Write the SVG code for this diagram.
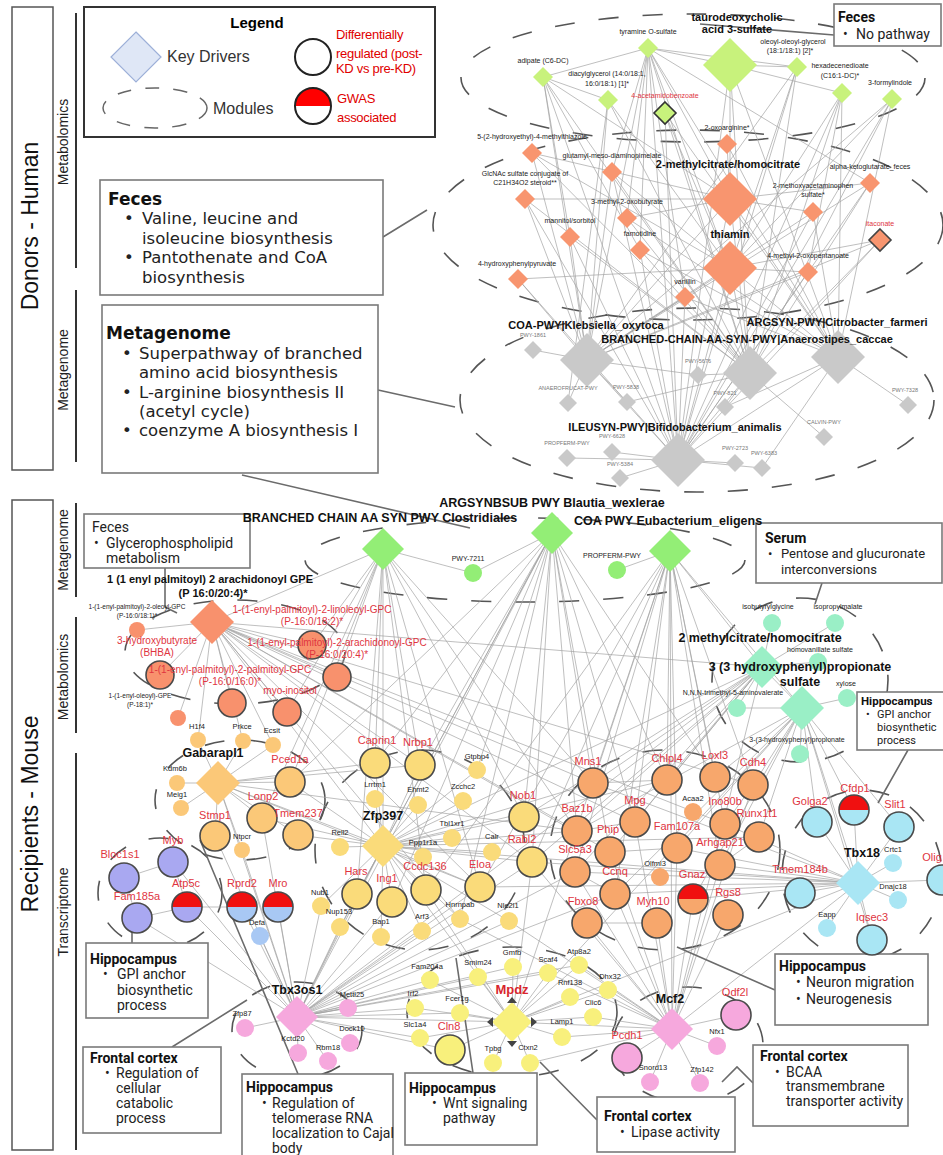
<svg xmlns="http://www.w3.org/2000/svg" width="943" height="1155" viewBox="0 0 943 1155">
<style>
text{font-family:"Liberation Sans",Arial,sans-serif}
.e{stroke:#a3a3a3;stroke-width:.7;fill:none}
.m{fill:none;stroke:#555;stroke-width:1.6;stroke-dasharray:20 24}
.cl{fill:none;stroke:#6b6b6b;stroke-width:1.6}
.bx{fill:#fff;stroke:#7a7a7a;stroke-width:1.6}
.s{font-size:7px;fill:#222;text-anchor:middle}
.s6{font-size:6.5px;fill:#222;text-anchor:middle}
.t{font-size:7.5px;fill:#222;text-anchor:middle}
.g{font-size:5.5px;fill:#777;text-anchor:middle}
.r{font-size:11px;fill:#e0353f;text-anchor:middle}
.rs{font-size:10px;fill:#e0353f;text-anchor:middle}
.k{font-size:11px;font-weight:bold;fill:#111;text-anchor:middle}
.kb{font-size:12.5px;font-weight:bold;fill:#111;text-anchor:middle}
.dr{stroke:#4a4a4a;stroke-width:1.6}
.bt{font-family:Roboto,"Liberation Sans",sans-serif;font-size:14px;fill:#222}
.bh{font-family:Roboto,"Liberation Sans",sans-serif;font-size:14px;font-weight:bold;fill:#111}
.bt13{font-family:Roboto,"Liberation Sans",sans-serif;font-size:13px;fill:#222}
.bh11{font-family:Roboto,"Liberation Sans",sans-serif;font-size:11.5px;font-weight:bold;fill:#111}
.bt10{font-family:Roboto,"Liberation Sans",sans-serif;font-size:11px;fill:#222}
.dj{font-family:"DejaVu Sans",sans-serif;font-size:16.5px;fill:#222}
.djb{font-family:"DejaVu Sans",sans-serif;font-size:17px;font-weight:bold;fill:#111}
.side{font-size:23px;fill:#111;text-anchor:middle}
.sub{font-size:14px;fill:#222;text-anchor:middle}
.dg{fill:#c8f27c}.do{fill:#f8956f}.gy{fill:#c9c9c9}.rg{fill:#93ee76}.ro{fill:#f8916d}
.tl{fill:#9aefc6}.go{fill:#fbc878}.ye{fill:#fadb7a}.or{fill:#f7a76c}.pu{fill:#a9a8f1}
.lb{fill:#a8c8f4}.cy{fill:#a9e6f4}.by{fill:#f8f07c}.pk{fill:#f6a8dd}.rd{fill:#f01010}
.red{fill:#e0353f}
</style>

<g id="side-labels">
<rect x="12" y="7" width="41" height="463" fill="none" stroke="#555" stroke-width="1.5"/>
<text class="side" transform="translate(38,226) rotate(-90)">Donors - Human</text>
<rect x="12" y="500" width="41" height="650" fill="none" stroke="#555" stroke-width="1.5"/>
<text class="side" transform="translate(38,814) rotate(-90)">Recipients - Mouse</text>
<g stroke="#333" stroke-width="2">
<line x1="76" y1="13" x2="76" y2="268"/><line x1="76" y1="290" x2="76" y2="462"/>
<line x1="76" y1="503" x2="76" y2="597"/><line x1="76" y1="617" x2="76" y2="733"/>
<line x1="76" y1="753" x2="76" y2="1150"/></g>
<text class="sub" transform="translate(68,142) rotate(-90)">Metabolomics</text>
<text class="sub" transform="translate(68,370) rotate(-90)">Metagenome</text>
<text class="sub" transform="translate(68,550) rotate(-90)">Metagenome</text>
<text class="sub" transform="translate(68,677) rotate(-90)">Metabolomics</text>
<text class="sub" transform="translate(68,912) rotate(-90)">Transcriptome</text>
</g>

<g id="legend">
<rect x="84" y="7" width="351" height="130" fill="#fff" stroke="#333" stroke-width="2"/>
<text x="257" y="28" font-size="15" font-weight="bold" text-anchor="middle">Legend</text>
<polygon points="136,32 161,57 136,82 111,57" fill="#dfe7f6" stroke="#9db0d8" stroke-width="1.2"/>
<text x="167" y="62" font-family="'Open Sans',sans-serif" font-size="16" fill="#333">Key Drivers</text>
<ellipse cx="155" cy="108" rx="52" ry="20" fill="none" stroke="#666" stroke-width="1.5" stroke-dasharray="14 14"/>
<text x="213" y="114" font-family="'Open Sans',sans-serif" font-size="16" fill="#333">Modules</text>
<circle cx="313" cy="57" r="18" fill="#fff" stroke="#222" stroke-width="2"/>
<g font-family="'Open Sans',sans-serif" font-size="13" fill="#e00000" letter-spacing="-0.3">
<text x="336" y="39">Differentially</text><text x="336" y="58">regulated (post-</text><text x="336" y="73">KD vs pre-KD)</text>
<text x="337" y="103">GWAS</text><text x="337" y="122">associated</text></g>
<circle cx="313" cy="106" r="18" fill="#fff"/>
<path d="M295,106 A18,18 0 0 1 331,106 Z" fill="#f00"/>
<circle cx="313" cy="106" r="18" fill="none" stroke="#222" stroke-width="2"/>
</g>

<g id="modules">
<ellipse class="m" cx="693" cy="78" rx="232" ry="64"/>
<ellipse class="m" cx="688" cy="225" rx="255" ry="95"/>
<ellipse class="m" cx="697" cy="400" rx="237" ry="92"/>
<ellipse class="m" cx="525" cy="560" rx="220" ry="42"/>
<ellipse class="m" cx="235" cy="652" rx="110" ry="52"/>
<ellipse class="m" cx="800" cy="680" rx="88" ry="82"/>
<ellipse class="m" cx="240" cy="800" rx="85" ry="60"/>
<ellipse class="m" cx="160" cy="893" rx="62" ry="55"/>
<ellipse class="m" cx="420" cy="850" rx="105" ry="100"/>
<ellipse class="m" cx="665" cy="850" rx="115" ry="100"/>
<ellipse class="m" cx="862" cy="875" rx="80" ry="85"/>
<ellipse class="m" cx="512" cy="1012" rx="105" ry="65"/>
<ellipse class="m" cx="297" cy="1030" rx="65" ry="48"/>
<ellipse class="m" cx="688" cy="1045" rx="75" ry="58"/>
</g>

<g id="connectors">
<path class="e" d="M648,48L730,65M648,48L797,67M648,48L730,199M648,48L730,268M648,48L750,373M648,48L678,460M648,48L587,360M648,48L612,172M648,48L627,218M648,48L640,250M648,48L838,357M648,48L870,183M648,48L685,297M648,48L543,77
M543,77L730,199M543,77L640,250M543,77L587,360M543,77L678,460M543,77L570,237M543,77L750,373M543,77L608,100
M608,100L587,360M608,100L730,268M608,100L568,403M608,100L750,373
M665,113L730,268M665,113L678,460M665,113L750,373M665,113L838,357
M730,65L730,199M730,65L842,93M730,65L797,67M730,65L750,373M730,65L838,357M730,65L678,460
M797,67L730,268M797,67L750,373M797,67L678,460M797,67L587,360
M842,93L750,373M842,93L678,460M842,93L838,357M842,93L808,272M842,93L730,268
M892,99L838,357M892,99L730,268M892,99L750,373M892,99L678,460M892,99L587,360
M532,153L750,373M532,153L587,360M532,153L730,268M532,153L730,199
M727,144L730,199M727,144L838,357
M612,172L750,373M612,172L678,460M612,172L587,360M612,172L730,268
M730,199L525,199M730,199L838,357M730,199L750,373M730,199L587,360M730,199L678,460M730,199L870,183M730,199L813,212M730,199L627,218
M870,183L678,460M870,183L750,373M870,183L587,360
M525,199L750,373M525,199L587,360M525,199L678,460
M813,212L678,460M813,212L838,357M813,212L587,360
M627,218L750,373M627,218L838,357
M570,237L587,360M570,237L678,460M570,237L750,373
M640,250L750,373M640,250L838,357M640,250L678,460
M730,268L587,360M730,268L678,460M730,268L838,357M730,268L750,373M730,268L880,240M730,268L808,272M730,268L518,279
M880,240L678,460M880,240L750,373M880,240L587,360
M808,272L678,460M808,272L587,360
M518,279L587,360M518,279L678,460
M685,297L678,460M685,297L587,360M685,297L838,357
M587,360L533,350M587,360L568,403M587,360L627,402M587,360L698,375M587,360L678,460
M750,373L698,375M750,373L725,407M750,373L678,460M750,373L824,437M750,373L627,402
M838,357L908,405M838,357L725,407M838,357L678,460M838,357L762,468
M678,460L567,458M678,460L612,452M678,460L620,478M678,460L735,463M678,460L762,468"/>
<path class="e" d="M383,549L212,622M383,549L312,645M383,549L337,677M383,549L287,712M383,549L290,782M383,549L375,763M383,549L420,765M383,549L383,846M383,549L480,887M383,549L426,890M383,549L593,783M383,549L577,831M383,549L524,817M383,549L473,573M383,549L262,818M383,549L357,894
M552,533L473,573M552,533L420,765M552,533L375,763M552,533L477,770M552,533L524,817M552,533L532,862M552,533L593,783M552,533L667,780M552,533L635,822M552,533L577,831M552,533L610,852M552,533L460,919M552,533L357,894M552,533L297,1017M552,533L383,846M552,533L290,782M552,533L715,777M552,533L392,902
M670,551L617,570M670,551L762,667M670,551L593,783M670,551L667,780M670,551L715,777M670,551L753,785M670,551L635,822M670,551L725,824M670,551L677,848M670,551L720,865M670,551L615,894M670,551L532,862M670,551L480,887M670,551L672,1029M670,551L512,1022M670,551L802,708M670,551L426,890M670,551L575,872
M212,622L137,630M212,622L160,675M212,622L232,703M212,622L178,718M212,622L312,645M212,622L337,677M212,622L287,712M212,622L198,740M212,622L243,741M212,622L273,745M212,622L480,887M212,622L532,862M212,622L593,783M212,622L577,831M212,622L635,822M212,622L460,919M212,622L753,785M212,622L725,824M212,622L762,667M212,622L420,765M212,622L383,846M212,622L610,852
M762,667L772,623M762,667L835,623M762,667L818,662M762,667L737,708M762,667L802,708M762,667L593,783M762,667L577,831M762,667L667,780M762,667L635,822M762,667L610,852M762,667L575,872M762,667L532,862M762,667L383,846M762,667L297,1017M762,667L672,1029M762,667L524,817
M802,708L847,698M802,708L800,754M802,708L737,708M802,708L858,883M802,708L817,822M802,708L899,827M802,708L753,785M802,708L759,837M802,708L715,777M802,708L720,865M802,708L677,848M802,708L615,894M802,708L693,899M802,708L512,1022M802,708L872,940M802,708L854,810M802,708L577,831
M218,783L177,783M218,783L181,808M218,783L290,782M218,783L262,818M218,783L215,836M218,783L298,835M218,783L242,850M218,783L198,740M218,783L243,741M218,783L273,745M218,783L383,846M218,783L420,765M218,783L480,887M218,783L577,831M218,783L297,1017M218,783L375,763
M383,846L375,799M383,846L418,805M383,846L463,801M383,846L340,847M383,846L452,838M383,846L423,857M383,846L492,852M383,846L321,906M383,846L340,927M383,846L381,937M383,846L422,931M383,846L460,919M383,846L509,921M383,846L357,894M383,846L392,902M383,846L426,890M383,846L480,887M383,846L375,763M383,846L420,765M383,846L477,770M383,846L524,817M383,846L532,862M383,846L593,783M383,846L667,780M383,846L297,1017M383,846L512,1022M383,846L759,837M383,846L262,818M383,846L298,835M383,846L290,782M383,846L858,883M383,846L577,831
M858,883L817,822M858,883L854,810M858,883L899,827M858,883L893,863M858,883L940,880M858,883L898,900M858,883L800,893M858,883L827,928M858,883L872,940M858,883L720,865M858,883L693,899M858,883L677,848M858,883L615,894M858,883L575,872M858,883L532,862M858,883L480,887M858,883L512,1022M858,883L672,1029M858,883L593,783M858,883L725,824
M124,878L173,862M137,918L187,907M124,878L137,918M173,862L187,907M187,907L242,907
M297,1017L348,1008M297,1017L245,1028M297,1017L350,1043M297,1017L298,1053M297,1017L328,1061M297,1017L430,980M297,1017L415,1008M297,1017L420,1038M297,1017L460,1013M297,1017L478,977M297,1017L513,967M297,1017L548,973M297,1017L579,965M297,1017L512,1022M297,1017L450,1050M297,1017L392,902M297,1017L357,894M297,1017L321,906M297,1017L340,927M297,1017L381,937M297,1017L460,919M297,1017L422,931M297,1017L509,921M297,1017L242,850M297,1017L262,818M297,1017L215,836M297,1017L187,907M297,1017L278,907M297,1017L173,862M297,1017L480,887M297,1017L532,862M297,1017L575,872M297,1017L615,894M297,1017L260,936M297,1017L137,918M297,1017L242,907
M512,1022L478,977M512,1022L513,967M512,1022L548,973M512,1022L579,965M512,1022L570,997M512,1022L608,990M512,1022L593,1017M512,1022L562,1037M512,1022L493,1063M512,1022L530,1063M512,1022L450,1050M512,1022L420,1038M512,1022L460,1013M512,1022L430,980M512,1022L415,1008M512,1022L672,1029M512,1022L426,890M512,1022L532,862
M672,1029L627,1058M672,1029L717,1046M672,1029L650,1082M672,1029L700,1083M672,1029L736,1015M672,1029L608,990M672,1029L593,1017M672,1029L562,1037M672,1029L579,965M672,1029L548,973M672,1029L530,1063M672,1029L657,923M672,1029L693,899M672,1029L728,915M672,1029L587,923M672,1029L615,894M672,1029L720,865M672,1029L677,848M672,1029L635,822M672,1029L610,852M672,1029L575,872M672,1029L532,862M672,1029L460,919M672,1029L509,921M672,1029L753,785
M593,783L667,780M577,831L635,822M610,852L677,848M575,872L615,894M720,865L759,837M725,824L753,785M587,923L657,923"/>
<g id="callouts">
<path class="cl" d="M383,237L427,210M378,390L455,407M242,475L470,528M834,35L700,24M165,568L165,607L177,613M822,583L815,604M908,750L878,803M132,943L132,930M172,1047L247,1000M298,1074L200,840M473,1073L456,958M597,1120L540,1062M775,990L677,947M722,1082L737,1067L753,1083"/>
</g>
</g>

<g id="boxes">
<g id="box-donor-feces"><rect class="bx" x="100" y="180" width="283" height="115"/>
<text class="djb" x="108" y="205">Feces</text>
<text class="dj" x="124" y="224">•</text><text class="dj" x="142" y="224">Valine, leucine and</text>
<text class="dj" x="142" y="244">isoleucine biosynthesis</text>
<text class="dj" x="124" y="263">•</text><text class="dj" x="142" y="263">Pantothenate and CoA</text>
<text class="dj" x="142" y="283">biosynthesis</text></g>
<g id="box-donor-metagenome"><rect class="bx" x="102" y="305" width="276" height="168"/>
<text class="djb" x="106" y="339">Metagenome</text>
<text class="dj" x="122" y="359">•</text><text class="dj" x="139" y="359">Superpathway of branched</text>
<text class="dj" x="139" y="378">amino acid biosynthesis</text>
<text class="dj" x="122" y="398">•</text><text class="dj" x="139" y="398">L-arginine biosynthesis II</text>
<text class="dj" x="139" y="417">(acetyl cycle)</text>
<text class="dj" x="122" y="436">•</text><text class="dj" x="139" y="436">coenzyme A biosynthesis I</text></g>
<g id="box-donor-feces-np"><rect class="bx" x="834" y="4" width="107" height="42"/>
<text class="bh" x="838" y="22">Feces</text><text class="bt" x="843" y="39">•</text><text class="bt" x="856" y="39">No pathway</text></g>
<g id="box-rec-feces"><rect class="bx" x="84" y="514" width="166" height="54"/>
<text class="bt" x="92" y="532">Feces</text>
<text class="bt" x="94" y="548">•</text><text class="bt" x="106" y="548">Glycerophospholipid</text>
<text class="bt" x="106" y="563">metabolism</text></g>
<g id="box-serum"><rect class="bx" x="756" y="523" width="186" height="60"/>
<text class="bh" x="765" y="543">Serum</text>
<text class="bt13" x="768" y="558">•</text><text class="bt13" x="781" y="558">Pentose and glucuronate</text>
<text class="bt13" x="781" y="574">interconversions</text></g>
<g id="box-hip-gpi-r"><rect class="bx" x="857" y="692" width="91" height="58"/>
<text class="bh11" x="861" y="705">Hippocampus</text>
<text class="bt10" x="866" y="718">•</text><text class="bt10" x="877" y="718">GPI anchor</text>
<text class="bt10" x="877" y="731">biosynthetic</text><text class="bt10" x="877" y="744">process</text></g>
<g id="box-hip-gpi-l"><rect class="bx" x="86" y="943" width="122" height="75"/>
<text class="bh" x="90" y="964">Hippocampus</text>
<text class="bt" x="103" y="979">•</text><text class="bt" x="117" y="979">GPI anchor</text>
<text class="bt" x="117" y="995">biosynthetic</text><text class="bt" x="117" y="1010">process</text></g>
<g id="box-fc-cellular"><rect class="bx" x="83" y="1047" width="138" height="86"/>
<text class="bh" x="90" y="1063">Frontal cortex</text>
<text class="bt" x="105" y="1078">•</text><text class="bt" x="116" y="1078">Regulation of</text>
<text class="bt" x="116" y="1093">cellular</text><text class="bt" x="116" y="1108">catabolic</text><text class="bt" x="116" y="1123">process</text></g>
<g id="box-hip-telomerase"><rect class="bx" x="242" y="1074" width="151" height="90"/>
<text class="bh" x="246" y="1092">Hippocampus</text>
<text class="bt" x="262" y="1108">•</text><text class="bt" x="272" y="1108">Regulation of</text>
<text class="bt" x="272" y="1123">telomerase RNA</text><text class="bt" x="272" y="1138">localization to Cajal</text><text class="bt" x="272" y="1153">body</text></g>
<g id="box-hip-wnt"><rect class="bx" x="405" y="1073" width="132" height="72"/>
<text class="bh" x="409" y="1093">Hippocampus</text>
<text class="bt" x="432" y="1108">•</text><text class="bt" x="443" y="1108">Wnt signaling</text><text class="bt" x="443" y="1123">pathway</text></g>
<g id="box-fc-lipase"><rect class="bx" x="597" y="1097" width="138" height="55"/>
<text class="bh" x="604" y="1121">Frontal cortex</text>
<text class="bt" x="620" y="1137">•</text><text class="bt" x="631" y="1137">Lipase activity</text></g>
<g id="box-fc-bcaa"><rect class="bx" x="753" y="1045" width="155" height="81"/>
<text class="bh" x="760" y="1061">Frontal cortex</text>
<text class="bt" x="775" y="1077">•</text><text class="bt" x="786" y="1077">BCAA</text>
<text class="bt" x="786" y="1091">transmembrane</text><text class="bt" x="786" y="1106">transporter activity</text></g>
<g id="box-hip-neuron"><rect class="bx" x="775" y="954" width="153" height="71"/>
<text class="bh" x="779" y="971">Hippocampus</text>
<text class="bt" x="796" y="987">•</text><text class="bt" x="806" y="987">Neuron migration</text>
<text class="bt" x="796" y="1004">•</text><text class="bt" x="806" y="1004">Neurogenesis</text></g>
</g>

<!-- donor metabolomics green -->
<g id="n-taurodeoxycholic"><polygon class="dg" points="730,38 757,65 730,92 703,65"/><text class="k" x="737" y="21">taurodeoxycholic</text><text class="k" x="737" y="33">acid 3-sulfate</text></g>
<g id="n-tyramine"><polygon class="dg" points="648,38 658,48 648,58 638,48"/><text class="s" x="648" y="34">tyramine O-sulfate</text></g>
<g id="n-adipate"><polygon class="dg" points="543,67 553,77 543,87 533,77"/><text class="s" x="543" y="63">adipate (C6-DC)</text></g>
<g id="n-diacylglycerol"><polygon class="dg" points="608,90 618,100 608,110 598,100"/><text class="s" x="607" y="76">diacylglycerol (14:0/18:1,</text><text class="s" x="607" y="86">16:0/18:1) [1]*</text></g>
<g id="n-acetamidobenzoate"><polygon class="dg" points="665,102 676,113 665,124 654,113" stroke="#333" stroke-width="1.6"/><text class="s red" x="665" y="98">4-acetamidobenzoate</text></g>
<g id="n-oleoyl"><polygon class="dg" points="797,57 807,67 797,77 787,67"/><text class="s" x="793" y="44">oleoyl-oleoyl-glycerol</text><text class="s" x="790" y="53">(18:1/18:1) [2]*</text></g>
<g id="n-hexadecenedioate"><polygon class="dg" points="842,83 852,93 842,103 832,93"/><text class="s" x="840" y="68">hexadecenedioate</text><text class="s" x="840" y="78">(C16:1-DC)*</text></g>
<g id="n-formylindole"><polygon class="dg" points="892,89 902,99 892,109 882,99"/><text class="s" x="890" y="85">3-formylindole</text></g>

<!-- donor feces orange -->
<g id="n-thiazole"><polygon class="do" points="532,143 542,153 532,163 522,153"/><text class="s" x="532" y="139">5-(2-hydroxyethyl)-4-methylthiazole</text></g>
<g id="n-oxoarginine"><polygon class="do" points="727,134 737,144 727,154 717,144"/><text class="s" x="727" y="130">2-oxoarginine*</text></g>
<g id="n-glutamyl"><polygon class="do" points="612,162 622,172 612,182 602,172"/><text class="s" x="612" y="158">glutamyl-meso-diaminopimelate</text></g>
<g id="n-methylcitrate-d"><polygon class="do" points="730,172 757,199 730,226 703,199"/><text class="k" x="728" y="168">2-methylcitrate/homocitrate</text></g>
<g id="n-alphaketo"><polygon class="do" points="870,173 880,183 870,193 860,183"/><text class="s" x="870" y="169">alpha-ketoglutarate_feces</text></g>
<g id="n-glcnac"><polygon class="do" points="525,189 535,199 525,209 515,199"/><text class="s" x="525" y="176">GlcNAc sulfate conjugate of</text><text class="s" x="525" y="185">C21H34O2 steroid**</text></g>
<g id="n-methoxy"><polygon class="do" points="813,202 823,212 813,222 803,212"/><text class="s" x="813" y="188">2-methoxyacetaminophen</text><text class="s" x="813" y="197">sulfate*</text></g>
<g id="n-oxobutyrate"><polygon class="do" points="627,208 637,218 627,228 617,218"/><text class="s" x="627" y="204">3-methyl-2-oxobutyrate</text></g>
<g id="n-mannitol"><polygon class="do" points="570,227 580,237 570,247 560,237"/><text class="s" x="570" y="223">mannitol/sorbitol</text></g>
<g id="n-famotidine"><polygon class="do" points="640,240 650,250 640,260 630,250"/><text class="s" x="640" y="236">famotidine</text></g>
<g id="n-thiamin"><polygon class="do" points="730,241 757,268 730,295 703,268"/><text class="k" x="730" y="238">thiamin</text></g>
<g id="n-itaconate"><polygon class="do" points="880,229 891,240 880,251 869,240" stroke="#444" stroke-width="1.6"/><text class="s red" x="880" y="226">itaconate</text></g>
<g id="n-oxopentanoate"><polygon class="do" points="808,262 818,272 808,282 798,272"/><text class="s" x="808" y="258">4-methyl-2-oxopentanoate</text></g>
<g id="n-hydroxyphenylpyruvate"><polygon class="do" points="518,269 528,279 518,289 508,279"/><text class="s" x="517" y="266">4-hydroxyphenylpyruvate</text></g>
<g id="n-vanillin"><polygon class="do" points="685,287 695,297 685,307 675,297"/><text class="s" x="685" y="284">vanillin</text></g>

<!-- donor metagenome gray -->
<g id="n-coa-kleb"><polygon class="gy" points="587,333 614,360 587,387 560,360"/><text class="k" x="586" y="329">COA-PWY|Klebsiella_oxytoca</text></g>
<g id="n-pwy1861"><polygon class="gy" points="533,341 542,350 533,359 524,350"/><text class="g" x="533" y="337">PWY-1861</text></g>
<g id="n-argsyn-citro"><polygon class="gy" points="838,330 865,357 838,384 811,357"/><text class="k" x="837" y="326">ARGSYN-PWY|Citrobacter_farmeri</text></g>
<g id="n-branched-anaero"><polygon class="gy" points="750,346 777,373 750,400 723,373"/><text class="k" x="747" y="343">BRANCHED-CHAIN-AA-SYN-PWY|Anaerostipes_caccae</text></g>
<g id="n-pwy5676"><polygon class="gy" points="698,366 707,375 698,384 689,375"/><text class="g" x="698" y="363">PWY-5676</text></g>
<g id="n-anaerofrucat"><polygon class="gy" points="568,394 577,403 568,412 559,403"/><text class="g" x="568" y="390">ANAEROFRUCAT-PWY</text></g>
<g id="n-pwy5838"><polygon class="gy" points="627,393 636,402 627,411 618,402"/><text class="g" x="626" y="389">PWY-5838</text></g>
<g id="n-pwy821"><polygon class="gy" points="725,398 734,407 725,416 716,407"/><text class="g" x="725" y="395">PWY-821</text></g>
<g id="n-pwy7328"><polygon class="gy" points="908,396 917,405 908,414 899,405"/><text class="g" x="905" y="392">PWY-7328</text></g>
<g id="n-ileusyn"><polygon class="gy" points="678,433 705,460 678,487 651,460"/><text class="k" x="675" y="431">ILEUSYN-PWY|Bifidobacterium_animalis</text></g>
<g id="n-calvin"><polygon class="gy" points="824,428 833,437 824,446 815,437"/><text class="g" x="824" y="424">CALVIN-PWY</text></g>
<g id="n-propferm-d"><polygon class="gy" points="567,449 576,458 567,467 558,458"/><text class="g" x="567" y="445">PROPFERM-PWY</text></g>
<g id="n-pwy6628"><polygon class="gy" points="612,443 621,452 612,461 603,452"/><text class="g" x="612" y="438">PWY-6628</text></g>
<g id="n-pwy5384"><polygon class="gy" points="620,469 629,478 620,487 611,478"/><text class="g" x="620" y="466">PWY-5384</text></g>
<g id="n-pwy2723"><polygon class="gy" points="735,454 744,463 735,472 726,463"/><text class="g" x="735" y="450">PWY-2723</text></g>
<g id="n-pwy6383"><polygon class="gy" points="762,459 771,468 762,477 753,468"/><text class="g" x="764" y="455">PWY-6383</text></g>

<!-- recipient metagenome -->
<g id="n-argsynbsub"><polygon class="rg" points="552,512 573,533 552,554 531,533"/><text class="kb" x="552" y="507">ARGSYNBSUB PWY Blautia_wexlerae</text></g>
<g id="n-branched-clos"><polygon class="rg" points="383,528 404,549 383,570 362,549"/><text class="kb" x="380" y="522">BRANCHED CHAIN AA SYN PWY Clostridiales</text></g>
<g id="n-coa-eub"><polygon class="rg" points="670,530 691,551 670,572 649,551"/><text class="kb" x="668" y="525">COA PWY Eubacterium_eligens</text></g>
<g id="n-pwy7211"><circle class="rg" cx="473" cy="573" r="9"/><text class="s" x="468" y="561">PWY-7211</text></g>
<g id="n-propferm-r"><circle class="rg" cx="617" cy="570" r="9"/><text class="s" x="612" y="558">PROPFERM-PWY</text></g>

<!-- recipient metabolomics feces -->
<g id="n-gpe"><polygon class="ro" points="212,600 234,622 212,644 190,622"/><text class="k" x="210" y="583">1 (1 enyl palmitoyl) 2 arachidonoyl GPE</text><text class="k" x="213" y="597">(P 16:0/20:4)*</text></g>
<g id="n-oleoyl-gpc"><circle class="ro" cx="137" cy="630" r="8"/><text class="s6" x="137" y="609">1-(1-enyl-palmitoyl)-2-oleoyl-GPC</text><text class="s6" x="137" y="618">(P-16:0/18:1)*</text></g>
<g id="n-bhba"><circle class="ro dr" cx="160" cy="675" r="14"/><text class="rs" x="157" y="644">3-hydroxybutyrate</text><text class="rs" x="157" y="656">(BHBA)</text></g>
<g id="n-palmitoyl-gpc"><circle class="ro dr" cx="232" cy="703" r="14"/><text class="rs" x="230" y="673">1-(1-enyl-palmitoyl)-2-palmitoyl-GPC</text><text class="rs" x="230" y="685">(P-16:0/16:0)*</text></g>
<g id="n-oleoyl-gpe"><circle class="ro" cx="178" cy="718" r="8"/><text class="s6" x="140" y="698">1-(1-enyl-oleoyl)-GPE</text><text class="s6" x="140" y="707">(P-18:1)*</text></g>
<g id="n-myoinositol"><circle class="ro dr" cx="287" cy="712" r="14"/><text class="rs" x="290" y="694">myo-inositol</text></g>
<g id="n-linoleoyl-gpc"><circle class="ro dr" cx="312" cy="645" r="14"/><text class="rs" x="312" y="613">1-(1-enyl-palmitoyl)-2-linoleoyl-GPC</text><text class="rs" x="312" y="625">(P-16:0/18:2)*</text></g>
<g id="n-arachidonoyl-gpc"><circle class="ro dr" cx="337" cy="677" r="14"/><text class="rs" x="337" y="646">1-(1-enyl-palmitoyl)-2-arachidonoyl-GPC</text><text class="rs" x="337" y="658">(P-16:0/20:4)*</text></g>

<!-- recipient serum -->
<g id="n-isobutyrylglycine"><circle class="tl" cx="772" cy="623" r="9"/><text class="s" x="768" y="609">isobutyrylglycine</text></g>
<g id="n-isopropylmalate"><circle class="tl" cx="835" cy="623" r="9"/><text class="s" x="838" y="609">isopropylmalate</text></g>
<g id="n-methylcitrate-s"><polygon class="tl" points="762,646 783,667 762,688 741,667"/><text class="kb" x="760" y="642">2 methylcitrate/homocitrate</text></g>
<g id="n-homovanillate"><circle class="tl" cx="818" cy="662" r="9"/><text class="s" x="820" y="652">homovanillate sulfate</text></g>
<g id="n-hpps"><polygon class="tl" points="802,686 824,708 802,730 780,708"/><text class="kb" x="800" y="671">3 (3 hydroxyphenyl)propionate</text><text class="kb" x="800" y="686">sulfate</text></g>
<g id="n-xylose"><circle class="tl" cx="847" cy="698" r="9"/><text class="s" x="846" y="686">xylose</text></g>
<g id="n-aminovalerate"><circle class="tl" cx="737" cy="708" r="9"/><text class="s" x="733" y="695">N,N,N-trimethyl-5-aminovalerate</text></g>
<g id="n-hpp"><circle class="tl" cx="800" cy="754" r="9"/><text class="s" x="797" y="742">3-(3-hydroxyphenyl)propionate</text></g>

<!-- transcriptome: Gabarapl1 module -->
<g id="n-h1f4"><circle class="go" cx="198" cy="740" r="8"/><text class="t" x="197" y="729">H1f4</text></g>
<g id="n-prkce"><circle class="go" cx="243" cy="741" r="8"/><text class="t" x="242" y="729">Prkce</text></g>
<g id="n-ecsit"><circle class="go" cx="273" cy="745" r="8"/><text class="t" x="272" y="733">Ecsit</text></g>
<g id="n-gabarapl1"><polygon class="go" points="218,761 240,783 218,805 196,783"/><text class="kb" x="213" y="757">Gabarapl1</text></g>
<g id="n-kdm6b"><circle class="go" cx="177" cy="783" r="8"/><text class="t" x="175" y="771">Kdm6b</text></g>
<g id="n-meig1"><circle class="go" cx="181" cy="808" r="8"/><text class="t" x="177" y="797">Meig1</text></g>
<g id="n-pced1a"><circle class="go dr" cx="290" cy="782" r="15"/><text class="r" x="290" y="763">Pced1a</text></g>
<g id="n-lonp2"><circle class="go dr" cx="262" cy="818" r="15"/><text class="r" x="263" y="800">Lonp2</text></g>
<g id="n-stmp1"><circle class="go dr" cx="215" cy="836" r="15"/><text class="r" x="215" y="819">Stmp1</text></g>
<g id="n-tmem237"><circle class="go dr" cx="298" cy="835" r="15"/><text class="r" x="298" y="817">Tmem237</text></g>
<g id="n-ntpcr"><circle class="go" cx="242" cy="850" r="8"/><text class="t" x="242" y="839">Ntpcr</text></g>

<!-- purple module -->
<g id="n-bloc1s1"><circle class="pu dr" cx="124" cy="878" r="15"/><text class="r" x="120" y="858">Bloc1s1</text></g>
<g id="n-myb"><circle class="pu dr" cx="173" cy="862" r="15"/><text class="r" x="173" y="844">Myb</text></g>
<g id="n-fam185a"><circle class="pu dr" cx="137" cy="918" r="15"/><text class="r" x="137" y="900">Fam185a</text></g>
<g id="n-atp5c"><circle class="pu" cx="187" cy="907" r="15"/><path class="rd" d="M172,907A15,15 0 0 1 202,907Z"/><circle cx="187" cy="907" r="15" fill="none" class="dr"/><text class="r" x="186" y="887">Atp5c</text></g>
<g id="n-rprd2"><circle class="lb" cx="242" cy="907" r="15"/><path class="rd" d="M227,907A15,15 0 0 1 257,907Z"/><circle cx="242" cy="907" r="15" fill="none" class="dr"/><text class="r" x="242" y="887">Rprd2</text></g>
<g id="n-mro"><circle class="lb" cx="278" cy="907" r="15"/><path class="rd" d="M263,907A15,15 0 0 1 293,907Z"/><circle cx="278" cy="907" r="15" fill="none" class="dr"/><text class="r" x="278" y="887">Mro</text></g>
<g id="n-defa"><circle class="lb" cx="260" cy="936" r="9"/><text class="t" x="257" y="925">Defa</text></g>

<!-- Zfp397 module -->
<g id="n-caprin1"><circle class="ye dr" cx="375" cy="763" r="15"/><text class="r" x="377" y="744">Caprin1</text></g>
<g id="n-nrbp1"><circle class="ye dr" cx="420" cy="765" r="15"/><text class="r" x="418" y="746">Nrbp1</text></g>
<g id="n-gtpbp4"><circle class="ye" cx="477" cy="770" r="9"/><text class="t" x="477" y="759">Gtpbp4</text></g>
<g id="n-lrrtm1"><circle class="ye" cx="375" cy="799" r="9"/><text class="t" x="375" y="787">Lrrtm1</text></g>
<g id="n-ehmt2"><circle class="ye" cx="418" cy="805" r="9"/><text class="t" x="418" y="792">Ehmt2</text></g>
<g id="n-zcchc2"><circle class="ye" cx="463" cy="801" r="9"/><text class="t" x="463" y="789">Zcchc2</text></g>
<g id="n-zfp397"><polygon class="ye" points="383,825 404,846 383,867 362,846"/><text class="kb" x="383" y="820">Zfp397</text></g>
<g id="n-rell2"><circle class="ye" cx="340" cy="847" r="9"/><text class="t" x="340" y="835">Rell2</text></g>
<g id="n-tbl1xr1"><circle class="ye" cx="452" cy="838" r="9"/><text class="t" x="452" y="826">Tbl1xr1</text></g>
<g id="n-ppp1r1a"><circle class="ye" cx="423" cy="857" r="9"/><text class="t" x="423" y="845">Ppp1r1a</text></g>
<g id="n-calr"><circle class="ye" cx="492" cy="852" r="9"/><text class="t" x="492" y="839">Calr</text></g>
<g id="n-nob1"><circle class="ye dr" cx="524" cy="817" r="15"/><text class="r" x="523" y="799">Nob1</text></g>
<g id="n-rabl2"><circle class="ye dr" cx="532" cy="862" r="15"/><text class="r" x="522" y="843">Rabl2</text></g>
<g id="n-eloa"><circle class="ye dr" cx="480" cy="887" r="15"/><text class="r" x="480" y="868">Eloa</text></g>
<g id="n-hars"><circle class="ye dr" cx="357" cy="894" r="15"/><text class="r" x="356" y="875">Hars</text></g>
<g id="n-ing1"><circle class="ye dr" cx="392" cy="902" r="15"/><text class="r" x="387" y="882">Ing1</text></g>
<g id="n-ccdc136"><circle class="ye dr" cx="426" cy="890" r="15"/><text class="r" x="425" y="870">Ccdc136</text></g>
<g id="n-nub1"><circle class="ye" cx="321" cy="906" r="9"/><text class="t" x="320" y="895">Nub1</text></g>
<g id="n-nup153"><circle class="ye" cx="340" cy="927" r="9"/><text class="t" x="339" y="914">Nup153</text></g>
<g id="n-bap1"><circle class="ye" cx="381" cy="937" r="9"/><text class="t" x="381" y="924">Bap1</text></g>
<g id="n-arf3"><circle class="ye" cx="422" cy="931" r="9"/><text class="t" x="422" y="919">Arf3</text></g>
<g id="n-hnrnpab"><circle class="ye" cx="460" cy="919" r="9"/><text class="t" x="460" y="907">Hnrnpab</text></g>
<g id="n-nle1"><circle class="ye" cx="509" cy="921" r="9"/><text class="t" x="508" y="908">Nle2l1</text></g>

<!-- orange transcriptome module -->
<g id="n-mns1"><circle class="or dr" cx="593" cy="783" r="15"/><text class="r" x="588" y="765">Mns1</text></g>
<g id="n-chlpl4"><circle class="or dr" cx="667" cy="780" r="15"/><text class="r" x="667" y="762">Chlpl4</text></g>
<g id="n-loxl3"><circle class="or dr" cx="715" cy="777" r="15"/><text class="r" x="715" y="759">Loxl3</text></g>
<g id="n-cdh4"><circle class="or dr" cx="753" cy="785" r="15"/><text class="r" x="753" y="766">Cdh4</text></g>
<g id="n-baz1b"><circle class="or dr" cx="577" cy="831" r="15"/><text class="r" x="577" y="812">Baz1b</text></g>
<g id="n-mpg"><circle class="or dr" cx="635" cy="822" r="15"/><text class="r" x="635" y="804">Mpg</text></g>
<g id="n-acaa2"><circle class="or" cx="693" cy="812" r="9"/><text class="t" x="693" y="801">Acaa2</text></g>
<g id="n-ino80b"><circle class="or dr" cx="725" cy="824" r="15"/><text class="r" x="725" y="805">Ino80b</text></g>
<g id="n-runx1t1"><circle class="or dr" cx="759" cy="837" r="15"/><text class="r" x="757" y="817">Runx1t1</text></g>
<g id="n-phip"><circle class="or dr" cx="610" cy="852" r="15"/><text class="r" x="608" y="833">Phip</text></g>
<g id="n-fam107a"><circle class="or dr" cx="677" cy="848" r="15"/><text class="r" x="677" y="830">Fam107a</text></g>
<g id="n-slc5a3"><circle class="or dr" cx="575" cy="872" r="15"/><text class="r" x="575" y="853">Slc5a3</text></g>
<g id="n-arhgap21"><circle class="or dr" cx="720" cy="865" r="15"/><text class="r" x="720" y="846">Arhgap21</text></g>
<g id="n-ccnq"><circle class="or dr" cx="615" cy="894" r="15"/><text class="r" x="615" y="875">Ccnq</text></g>
<g id="n-olfml3"><circle class="or" cx="660" cy="877" r="9"/><text class="t" x="655" y="866">Olfml3</text></g>
<g id="n-gnaz"><circle class="or" cx="693" cy="899" r="15"/><path class="rd" d="M678,899A15,15 0 0 1 708,899Z"/><circle cx="693" cy="899" r="15" fill="none" class="dr"/><text class="r" x="692" y="878">Gnaz</text></g>
<g id="n-fbxo8"><circle class="or dr" cx="587" cy="923" r="15"/><text class="r" x="583" y="905">Fbxo8</text></g>
<g id="n-myh10"><circle class="or dr" cx="657" cy="923" r="15"/><text class="r" x="653" y="905">Myh10</text></g>
<g id="n-rgs8"><circle class="or dr" cx="728" cy="915" r="15"/><text class="r" x="728" y="896">Rgs8</text></g>

<!-- Tbx18 module -->
<g id="n-golga2"><circle class="cy dr" cx="817" cy="822" r="15"/><text class="r" x="810" y="805">Golga2</text></g>
<g id="n-cfdp1"><circle class="cy" cx="854" cy="810" r="15"/><path class="rd" d="M839,810A15,15 0 0 1 869,810Z"/><circle cx="854" cy="810" r="15" fill="none" class="dr"/><text class="r" x="855" y="792">Cfdp1</text></g>
<g id="n-slit1"><circle class="cy dr" cx="899" cy="827" r="15"/><text class="r" x="895" y="808">Slit1</text></g>
<g id="n-tbx18"><polygon class="cy" points="858,861 880,883 858,905 836,883"/><text class="kb" x="862" y="857">Tbx18</text></g>
<g id="n-crtc1"><circle class="cy" cx="893" cy="863" r="9"/><text class="t" x="893" y="852">Crtc1</text></g>
<g id="n-olig"><circle class="cy dr" cx="942" cy="880" r="15"/><text class="r" x="932" y="861">Olig</text></g>
<g id="n-dnajc18"><circle class="cy" cx="898" cy="900" r="9"/><text class="t" x="893" y="889">Dnajc18</text></g>
<g id="n-tmem184b"><circle class="cy dr" cx="800" cy="893" r="15"/><text class="r" x="800" y="873">Tmem184b</text></g>
<g id="n-eapp"><circle class="cy" cx="827" cy="928" r="9"/><text class="t" x="827" y="917">Eapp</text></g>
<g id="n-iqsec3"><circle class="cy dr" cx="872" cy="940" r="15"/><text class="r" x="872" y="921">Iqsec3</text></g>

<!-- Mpdz module -->
<g id="n-fam204a"><circle class="by" cx="430" cy="980" r="9"/><text class="t" x="427" y="969">Fam204a</text></g>
<g id="n-smim24"><circle class="by" cx="478" cy="977" r="9"/><text class="t" x="478" y="965">Smim24</text></g>
<g id="n-gmfb"><circle class="by" cx="513" cy="967" r="9"/><text class="t" x="512" y="955">Gmfb</text></g>
<g id="n-scaf4"><circle class="by" cx="548" cy="973" r="9"/><text class="t" x="548" y="962">Scaf4</text></g>
<g id="n-atp8a2"><circle class="by" cx="579" cy="965" r="9"/><text class="t" x="579" y="954">Atp8a2</text></g>
<g id="n-irf2"><circle class="by" cx="415" cy="1008" r="9"/><text class="t" x="413" y="996">Irf2</text></g>
<g id="n-fcer1g"><circle class="by" cx="460" cy="1013" r="9"/><text class="t" x="457" y="1001">Fcer1g</text></g>
<g id="n-rnf138"><circle class="by" cx="570" cy="997" r="9"/><text class="t" x="570" y="985">Rnf138</text></g>
<g id="n-dhx32"><circle class="by" cx="608" cy="990" r="9"/><text class="t" x="610" y="979">Dhx32</text></g>
<g id="n-clic6"><circle class="by" cx="593" cy="1017" r="9"/><text class="t" x="593" y="1005">Clic6</text></g>
<g id="n-mpdz"><polygon class="by" points="512,1002 532,1022 512,1042 492,1022"/>
<path fill="#444" d="M507,1003L517,1003L512,997ZM507,1041L517,1041L512,1047ZM493,1017L493,1027L487,1022ZM531,1017L531,1027L537,1022Z"/>
<text x="512" y="994" font-size="13" font-weight="bold" fill="#d8262e" text-anchor="middle">Mpdz</text></g>
<g id="n-lamp1"><circle class="by" cx="562" cy="1037" r="9"/><text class="t" x="562" y="1024">Lamp1</text></g>
<g id="n-slc1a4"><circle class="by" cx="420" cy="1038" r="9"/><text class="t" x="415" y="1027">Slc1a4</text></g>
<g id="n-cln8"><circle class="by dr" cx="450" cy="1050" r="15"/><text class="r" x="449" y="1030">Cln8</text></g>
<g id="n-tpbg"><circle class="by" cx="493" cy="1063" r="9"/><text class="t" x="493" y="1051">Tpbg</text></g>
<g id="n-ctxn2"><circle class="by" cx="530" cy="1063" r="9"/><text class="t" x="528" y="1050">Ctxn2</text></g>

<!-- Tbx3os1 module -->
<g id="n-tbx3os1"><polygon class="pk" points="297,996 318,1017 297,1038 276,1017"/><text class="kb" x="297" y="994">Tbx3os1</text></g>
<g id="n-mettl25"><circle class="pk" cx="348" cy="1008" r="9"/><text class="t" x="352" y="997">Mettl25</text></g>
<g id="n-zfp87"><circle class="pk" cx="245" cy="1028" r="9"/><text class="t" x="242" y="1016">Zfp87</text></g>
<g id="n-dock10"><circle class="pk" cx="350" cy="1043" r="9"/><text class="t" x="352" y="1031">Dock10</text></g>
<g id="n-kctd20"><circle class="pk" cx="298" cy="1053" r="9"/><text class="t" x="293" y="1041">Kctd20</text></g>
<g id="n-rbm18"><circle class="pk" cx="328" cy="1061" r="9"/><text class="t" x="328" y="1050">Rbm18</text></g>

<!-- Mcf2 module -->
<g id="n-mcf2"><polygon class="pk" points="672,1008 693,1029 672,1050 651,1029"/><text class="kb" x="670" y="1003">Mcf2</text></g>
<g id="n-odf2l"><circle class="pk dr" cx="736" cy="1015" r="15"/><text class="r" x="735" y="996">Odf2l</text></g>
<g id="n-pcdh1"><circle class="pk dr" cx="627" cy="1058" r="15"/><text class="r" x="627" y="1039">Pcdh1</text></g>
<g id="n-nfx1"><circle class="pk" cx="717" cy="1046" r="9"/><text class="t" x="717" y="1034">Nfx1</text></g>
<g id="n-snord13"><circle class="pk" cx="650" cy="1082" r="9"/><text class="t" x="653" y="1070">Snord13</text></g>
<g id="n-zfp142"><circle class="pk" cx="700" cy="1083" r="9"/><text class="t" x="702" y="1072">Zfp142</text></g>
</svg>
